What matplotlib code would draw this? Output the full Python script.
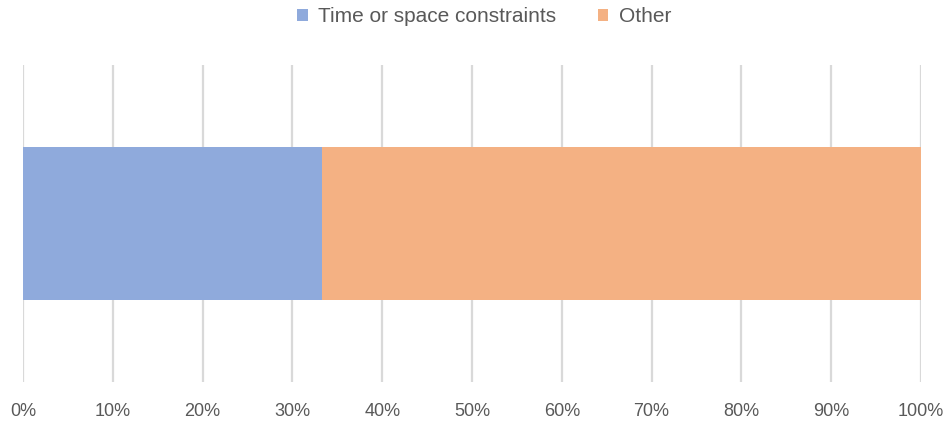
import matplotlib
matplotlib.use("Agg")
import matplotlib.pyplot as plt
from matplotlib.ticker import FuncFormatter, MultipleLocator

series_names = ["Time or space constraints", "Other"]
series_values = [0.333, 0.667]
series_colors = ["#8FAADC", "#F4B183"]
category = [""]

plt.rcParams["font.family"] = ["Liberation Sans", "DejaVu Sans"]
text_color = "#595959"

fig = plt.figure(figsize=(9.49, 4.25), dpi=100)
ax = fig.add_axes([23 / 949, 1 - 382 / 425, (921 - 23) / 949, (382 - 65) / 425])

left = 0.0
handles = []
for name, val, col in zip(series_names, series_values, series_colors):
    h = ax.barh(category, [val], left=[left], height=0.483, color=col, label=name, zorder=2)
    handles.append(h)
    left += val

ax.set_xlim(0, 1)
ax.set_ylim(-0.5, 0.5)
ax.xaxis.set_major_locator(MultipleLocator(0.1))
ax.xaxis.set_major_formatter(FuncFormatter(lambda v, p: f"{round(v * 100):d}%"))
ax.grid(axis="x", color="#D9D9D9", linewidth=1.6, zorder=0)
ax.tick_params(axis="x", length=0, pad=15, labelsize=13, labelcolor=text_color)
ax.tick_params(axis="y", length=0, labelleft=False)
for s in ax.spines.values():
    s.set_visible(False)

fig.legend(handles=handles, labels=series_names, loc="center", bbox_to_anchor=(484 / 949, 1 - 17 / 425),
           ncol=2, frameon=False, fontsize=15, labelcolor=text_color,
           handlelength=0.5, handleheight=0.5, handletextpad=0.5, columnspacing=2.0)

fig.savefig("out.png", dpi=100)
